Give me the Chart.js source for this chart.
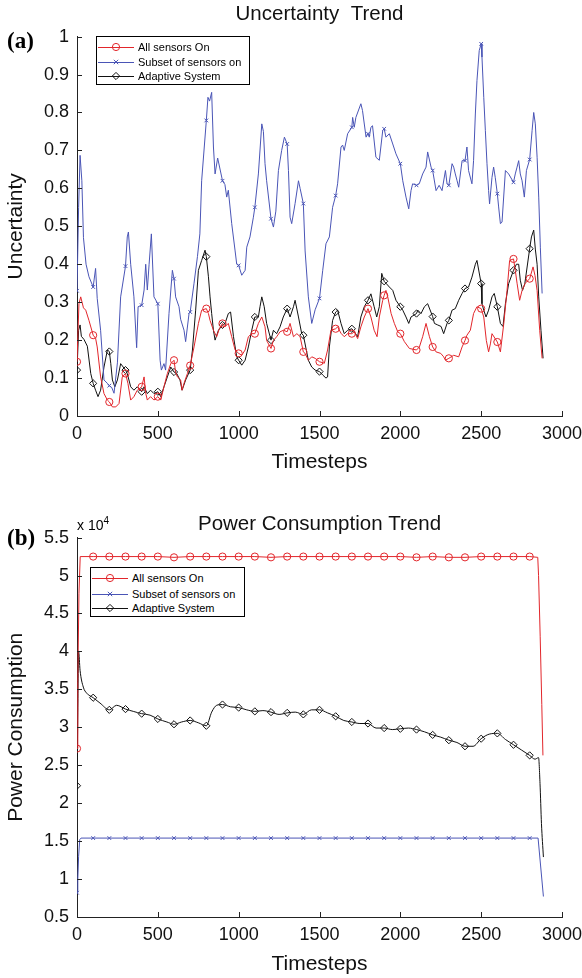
<!DOCTYPE html>
<html><head><meta charset="utf-8">
<script src="https://cdn.jsdelivr.net/npm/chart.js@4.4.0/dist/chart.umd.min.js"></script>
<style>
html,body{margin:0;padding:0;background:#fff}
body{width:582px;height:978px;position:relative;overflow:hidden;font-family:"Liberation Sans",Arial,sans-serif}
.wrap{position:absolute;left:0;width:582px;height:489px}
.lab{position:absolute;color:#000;white-space:nowrap;line-height:1}
.legend{position:absolute;border:1px solid #000;background:#fff;font-size:11px;box-sizing:border-box;font-family:"Liberation Sans",Arial,sans-serif}
.legend .row{position:absolute;left:0;height:14px;display:flex;align-items:center}
.legend svg{display:block}
.legend span{margin-left:3px;color:#000}
</style></head><body>
<div class="wrap" style="top:0"><canvas id="ca" width="582" height="489"></canvas></div>
<div class="wrap" style="top:489px"><canvas id="cb" width="582" height="489"></canvas></div>
<div class="lab" style="left:7px;top:29px;font-family:'Liberation Serif',serif;font-weight:bold;font-size:23px">(a)</div>
<div class="lab" style="left:7px;top:526px;font-family:'Liberation Serif',serif;font-weight:bold;font-size:23px">(b)</div>
<div class="lab" style="left:77px;top:516px;font-size:14px">x 10<sup style="font-size:10px;vertical-align:6px">4</sup></div>
<div id="legA" class="legend" style="left:96px;top:36px;width:154px;height:49px"></div>
<div id="legB" class="legend" style="left:90px;top:567px;width:155px;height:50px"></div>
<script>
// ---------- DATA ----------
const seriesNames = ["All sensors On", "Subset of sensors on", "Adaptive System"];
const xTicks = [0, 500, 1000, 1500, 2000, 2500, 3000];

// (a) Uncertainty: [timestep, value]
const uncAllOn = [[0,0.143],[12,0.296],[23,0.314],[40,0.285],[54,0.279],[74,0.252],[100,0.213],[115,0.205],[125,0.182],[146,0.103],[167,0.059],[188,0.042],[200,0.037],[219,0.024],[240,0.024],[260,0.033],[280,0.103],[300,0.112],[315,0.086],[332,0.042],[352,0.051],[373,0.068],[400,0.077],[415,0.103],[425,0.06],[435,0.042],[455,0.051],[476,0.042],[500,0.051],[518,0.042],[538,0.077],[559,0.112],[580,0.138],[600,0.147],[610,0.115],[621,0.103],[641,0.095],[650,0.068],[662,0.086],[683,0.112],[700,0.133],[724,0.182],[751,0.244],[771,0.279],[800,0.283],[813,0.27],[823,0.252],[844,0.226],[864,0.209],[880,0.23],[900,0.244],[915,0.235],[936,0.244],[957,0.209],[978,0.174],[1000,0.165],[1019,0.16],[1040,0.174],[1060,0.209],[1081,0.217],[1100,0.217],[1122,0.244],[1143,0.261],[1163,0.235],[1173,0.199],[1200,0.178],[1215,0.199],[1235,0.209],[1256,0.222],[1277,0.226],[1300,0.222],[1318,0.244],[1339,0.209],[1360,0.217],[1380,0.209],[1400,0.169],[1411,0.165],[1431,0.147],[1452,0.156],[1473,0.152],[1500,0.143],[1530,0.139],[1550,0.174],[1571,0.226],[1600,0.23],[1612,0.235],[1633,0.218],[1653,0.209],[1674,0.217],[1700,0.217],[1715,0.222],[1736,0.204],[1756,0.235],[1777,0.261],[1800,0.283],[1818,0.261],[1838,0.226],[1856,0.209],[1870,0.261],[1891,0.305],[1900,0.318],[1911,0.331],[1922,0.314],[1943,0.27],[1963,0.244],[1984,0.222],[2000,0.217],[2025,0.196],[2056,0.178],[2100,0.174],[2118,0.182],[2138,0.209],[2159,0.244],[2180,0.209],[2200,0.182],[2221,0.169],[2250,0.165],[2268,0.156],[2279,0.147],[2300,0.152],[2330,0.16],[2361,0.156],[2382,0.182],[2400,0.199],[2412,0.213],[2433,0.226],[2453,0.27],[2474,0.288],[2500,0.283],[2516,0.261],[2532,0.199],[2546,0.169],[2557,0.19],[2567,0.217],[2600,0.195],[2619,0.169],[2640,0.244],[2660,0.331],[2676,0.41],[2700,0.414],[2711,0.384],[2722,0.35],[2738,0.305],[2753,0.331],[2773,0.35],[2800,0.362],[2821,0.393],[2833,0.37],[2846,0.331],[2862,0.226],[2877,0.152]];

const uncSubset = [[0,0.33],[10,0.55],[19,0.687],[30,0.62],[40,0.47],[56,0.40],[74,0.367],[100,0.34],[115,0.389],[125,0.31],[146,0.226],[167,0.095],[188,0.086],[200,0.08],[215,0.075],[229,0.06],[250,0.14],[270,0.314],[300,0.395],[311,0.472],[318,0.485],[332,0.40],[352,0.314],[369,0.18],[378,0.288],[400,0.292],[415,0.332],[425,0.40],[435,0.332],[446,0.40],[460,0.48],[476,0.314],[500,0.296],[514,0.147],[522,0.121],[538,0.138],[548,0.121],[569,0.27],[590,0.384],[600,0.362],[610,0.314],[631,0.288],[641,0.255],[662,0.226],[672,0.196],[693,0.27],[700,0.274],[724,0.35],[745,0.42],[760,0.48],[771,0.62],[800,0.779],[810,0.84],[820,0.83],[833,0.853],[844,0.709],[854,0.638],[870,0.68],[900,0.62],[915,0.61],[926,0.577],[936,0.595],[957,0.507],[978,0.435],[988,0.40],[1000,0.397],[1019,0.371],[1040,0.384],[1050,0.445],[1070,0.472],[1091,0.524],[1100,0.55],[1122,0.638],[1143,0.77],[1153,0.75],[1163,0.665],[1173,0.62],[1200,0.52],[1215,0.498],[1230,0.54],[1246,0.647],[1266,0.70],[1283,0.735],[1300,0.717],[1308,0.647],[1318,0.524],[1328,0.507],[1349,0.56],[1370,0.62],[1380,0.60],[1400,0.56],[1411,0.435],[1431,0.314],[1452,0.244],[1473,0.28],[1500,0.31],[1520,0.384],[1540,0.454],[1561,0.472],[1581,0.55],[1600,0.581],[1612,0.612],[1633,0.709],[1643,0.714],[1653,0.70],[1674,0.744],[1700,0.761],[1705,0.787],[1715,0.761],[1725,0.787],[1756,0.823],[1766,0.805],[1788,0.735],[1800,0.744],[1808,0.735],[1818,0.761],[1828,0.765],[1849,0.682],[1870,0.674],[1891,0.752],[1900,0.757],[1911,0.735],[1932,0.744],[1953,0.717],[1973,0.691],[2000,0.665],[2015,0.62],[2035,0.577],[2052,0.546],[2066,0.594],[2076,0.612],[2100,0.608],[2117,0.612],[2138,0.638],[2159,0.656],[2169,0.696],[2190,0.656],[2200,0.647],[2221,0.594],[2240,0.608],[2258,0.594],[2279,0.647],[2289,0.612],[2300,0.608],[2320,0.665],[2330,0.656],[2340,0.638],[2351,0.62],[2361,0.603],[2382,0.673],[2400,0.673],[2412,0.709],[2422,0.647],[2443,0.612],[2453,0.673],[2464,0.796],[2474,0.884],[2488,0.963],[2500,0.981],[2505,0.946],[2516,0.84],[2526,0.752],[2536,0.665],[2546,0.594],[2552,0.559],[2567,0.629],[2577,0.656],[2587,0.629],[2600,0.586],[2608,0.551],[2619,0.507],[2629,0.511],[2650,0.647],[2670,0.638],[2700,0.616],[2711,0.638],[2722,0.656],[2732,0.673],[2742,0.638],[2753,0.62],[2767,0.577],[2780,0.647],[2800,0.676],[2815,0.752],[2825,0.80],[2835,0.77],[2846,0.682],[2856,0.577],[2866,0.445],[2877,0.323]];

const uncAdaptive = [[0,0.121],[10,0.226],[19,0.24],[27,0.21],[43,0.202],[64,0.184],[85,0.112],[100,0.086],[115,0.068],[130,0.051],[146,0.068],[167,0.129],[188,0.174],[200,0.17],[209,0.138],[219,0.095],[234,0.077],[250,0.095],[270,0.138],[300,0.121],[311,0.112],[332,0.077],[352,0.068],[373,0.077],[400,0.064],[415,0.077],[435,0.059],[455,0.068],[476,0.059],[500,0.064],[518,0.051],[538,0.077],[559,0.103],[580,0.129],[600,0.116],[617,0.112],[637,0.095],[650,0.068],[672,0.095],[700,0.121],[714,0.174],[734,0.279],[751,0.384],[771,0.41],[792,0.437],[800,0.42],[813,0.367],[823,0.314],[833,0.27],[844,0.226],[854,0.2],[875,0.226],[900,0.24],[915,0.243],[936,0.27],[950,0.274],[968,0.209],[988,0.156],[1000,0.147],[1019,0.134],[1040,0.147],[1060,0.182],[1081,0.226],[1100,0.261],[1122,0.261],[1132,0.288],[1143,0.314],[1158,0.288],[1173,0.244],[1200,0.2],[1215,0.226],[1235,0.217],[1256,0.235],[1276,0.261],[1300,0.283],[1318,0.261],[1339,0.288],[1349,0.305],[1370,0.261],[1390,0.217],[1400,0.213],[1431,0.147],[1452,0.129],[1473,0.121],[1500,0.117],[1520,0.108],[1540,0.1],[1550,0.103],[1561,0.182],[1581,0.252],[1600,0.274],[1612,0.279],[1633,0.244],[1653,0.217],[1674,0.226],[1700,0.23],[1715,0.222],[1736,0.209],[1756,0.261],[1777,0.288],[1800,0.305],[1818,0.322],[1838,0.288],[1854,0.261],[1870,0.288],[1885,0.376],[1900,0.355],[1911,0.35],[1932,0.34],[1953,0.331],[1973,0.305],[2000,0.288],[2015,0.279],[2035,0.261],[2052,0.244],[2066,0.261],[2100,0.27],[2108,0.279],[2128,0.27],[2149,0.288],[2169,0.296],[2200,0.262],[2211,0.244],[2231,0.24],[2252,0.236],[2268,0.217],[2289,0.244],[2300,0.252],[2320,0.279],[2340,0.283],[2361,0.305],[2382,0.323],[2400,0.336],[2422,0.34],[2443,0.366],[2464,0.40],[2474,0.41],[2500,0.349],[2505,0.296],[2516,0.279],[2530,0.261],[2546,0.279],[2567,0.314],[2581,0.323],[2600,0.288],[2619,0.244],[2635,0.236],[2650,0.296],[2670,0.349],[2700,0.384],[2718,0.40],[2732,0.40],[2742,0.358],[2756,0.331],[2770,0.349],[2800,0.441],[2811,0.472],[2825,0.49],[2835,0.44],[2846,0.40],[2856,0.314],[2870,0.226],[2883,0.152]];

// (b) Power consumption: [timestep, value]
const powAllOn = [[0,27200],[5,36000],[12,47600],[20,52500],[100,52500],[200,52500],[300,52500],[400,52500],[500,52500],[600,52400],[700,52500],[800,52500],[900,52500],[1000,52500],[1100,52500],[1200,52400],[1300,52500],[1400,52500],[1500,52500],[1600,52500],[1700,52500],[1800,52500],[1900,52500],[2000,52500],[2100,52400],[2200,52500],[2300,52400],[2400,52400],[2500,52500],[2600,52500],[2700,52500],[2800,52500],[2850,52400],[2855,50000],[2865,42000],[2875,33000],[2882,26300]];

const powSubset = [[0,8200],[5,10000],[10,13000],[17,15200],[25,15400],[100,15400],[200,15400],[300,15400],[400,15400],[500,15400],[600,15400],[700,15400],[800,15400],[900,15400],[1000,15400],[1100,15400],[1200,15400],[1300,15400],[1400,15400],[1500,15400],[1600,15400],[1700,15400],[1800,15400],[1900,15400],[2000,15400],[2100,15400],[2200,15400],[2300,15400],[2400,15400],[2500,15400],[2600,15400],[2700,15400],[2800,15400],[2852,15400],[2885,7700]];

const powAdaptive = [[0,22300],[5,32000],[10,40000],[19,37500],[39,35300],[60,34500],[100,33900],[142,33200],[200,32300],[245,32900],[300,32400],[348,32100],[400,31800],[452,31600],[500,31100],[556,30700],[600,30400],[647,30700],[700,30900],[750,30600],[800,30200],[833,32000],[864,32900],[900,33000],[950,32700],[1000,32600],[1050,32300],[1100,32100],[1150,32200],[1200,32000],[1250,31700],[1300,31900],[1350,32000],[1400,31700],[1450,32300],[1500,32300],[1550,31900],[1600,31450],[1650,30900],[1700,30700],[1750,30500],[1800,30500],[1850,29900],[1900,29900],[1950,29700],[2000,29800],[2050,29900],[2100,29700],[2150,29400],[2200,29000],[2250,28700],[2300,28300],[2350,28000],[2400,27500],[2450,27500],[2500,28500],[2550,29100],[2600,29200],[2650,28400],[2700,27700],[2750,27000],[2800,26300],[2833,25800],[2855,26000],[2864,22600],[2873,17300],[2885,12900]];

// ---------- STYLE ----------
const RED = '#e2262b', BLUE = '#4a55b6', BLACK = '#111111';
const FONT = '"Liberation Sans", Arial, sans-serif';
const styles = [
  {color: RED, pointStyle: 'circle', r: 3.6},
  {color: BLUE, pointStyle: 'crossRot', r: 2.6},
  {color: BLACK, pointStyle: 'rectRot', r: 3.6}
];

function ds(label, pairs, st, extra) {
  return Object.assign({
    label,
    data: pairs.map(p => ({x: p[0], y: p[1]})),
    borderColor: st.color,
    borderWidth: 1,
    pointStyle: st.pointStyle,
    pointBorderColor: st.color,
    pointBackgroundColor: 'rgba(0,0,0,0)',
    pointBorderWidth: 1,
    pointRadius: c => (c.raw && c.raw.x % 100 === 0 ? st.r : 0),
    pointHoverRadius: 0,
    tension: 0,
    fill: false
  }, extra || {});
}

const inwardTicks = {
  id: 'inwardTicks',
  afterDatasetsDraw(chart) {
    const {ctx, chartArea: a, scales: {x, y}} = chart;
    ctx.save();
    ctx.strokeStyle = '#222';
    ctx.lineWidth = 1;
    ctx.beginPath();
    x.ticks.forEach(t => { const px = Math.round(x.getPixelForValue(t.value)) + 0.5; ctx.moveTo(px, a.bottom); ctx.lineTo(px, a.bottom - 5); });
    y.ticks.forEach(t => { const py = Math.round(y.getPixelForValue(t.value)) + 0.5; ctx.moveTo(a.left, py); ctx.lineTo(a.left + 5, py); });
    ctx.stroke();
    ctx.restore();
  }
};

function makeOptions(cfg) {
  return {
    responsive: false,
    animation: false,
    devicePixelRatio: 1,
    layout: {padding: {left: 0, right: 20, top: 0, bottom: 0}},
    plugins: {
      legend: {display: false},
      tooltip: {enabled: false},
      title: {display: true, fullSize: false, text: cfg.title, color: '#111', font: {family: FONT, size: 20.5, weight: 'normal'}, padding: cfg.titlePad}
    },
    scales: {
      x: {
        type: 'linear', min: 0, max: 3000,
        afterBuildTicks: s => { s.ticks = xTicks.map(v => ({value: v})); },
        afterFit: s => { s.height = cfg.xHeight; s.paddingRight = 0; s.paddingLeft = 0; },
        grid: {display: true, drawOnChartArea: false, drawTicks: false},
        border: {display: true, color: '#222', width: 1},
        ticks: {color: '#111', font: {family: FONT, size: 18}, padding: 7, maxRotation: 0, callback: v => String(v)},
        title: {display: true, text: 'Timesteps', color: '#111', font: {family: FONT, size: 21}, padding: {top: 0, bottom: cfg.xTitleBottom}}
      },
      y: {
        type: 'linear', min: cfg.yMin, max: cfg.yMax,
        afterBuildTicks: s => { s.ticks = cfg.yTicks.map(v => ({value: v})); },
        afterFit: s => { s.width = 77; },
        grid: {display: true, drawOnChartArea: false, drawTicks: false},
        border: {display: true, color: '#222', width: 1},
        ticks: {color: '#111', font: {family: FONT, size: 18}, padding: 8, callback: cfg.yFmt},
        title: {display: true, text: cfg.yTitle, color: '#111', font: {family: FONT, size: 21}, padding: {top: 4, bottom: 0}}
      }
    }
  };
}

const uncTicks = [0, 0.1, 0.2, 0.3, 0.4, 0.5, 0.6, 0.7, 0.8, 0.9, 1];
const powTicks = [5000, 10000, 15000, 20000, 25000, 30000, 35000, 40000, 45000, 50000, 55000];

new Chart(document.getElementById('ca'), {
  type: 'line',
  data: {datasets: [
    ds(seriesNames[0], uncAllOn, styles[0]),
    ds(seriesNames[1], uncSubset, styles[1]),
    ds(seriesNames[2], uncAdaptive, styles[2])
  ]},
  options: makeOptions({title: 'Uncertainty  Trend', titlePad: {top: 2, bottom: 10}, xHeight: 73, xTitleBottom: 14,
    yMin: 0, yMax: 1, yTicks: uncTicks, yTitle: 'Uncertainty', yFmt: v => String(Math.round(v * 10) / 10)}),
  plugins: [inwardTicks]
});

new Chart(document.getElementById('cb'), {
  type: 'line',
  data: {datasets: [
    ds(seriesNames[0], powAllOn, styles[0]),
    ds(seriesNames[1], powSubset, styles[1]),
    ds(seriesNames[2], powAdaptive, styles[2], {cubicInterpolationMode: 'monotone'})
  ]},
  options: makeOptions({title: 'Power Consumption Trend', titlePad: {top: 23, bottom: 1}, xHeight: 61, xTitleBottom: 1,
    yMin: 5000, yMax: 55000, yTicks: powTicks, yTitle: 'Power Consumption', yFmt: v => String(Math.round(v / 1000) / 10)}),
  plugins: [inwardTicks]
});

// ---------- HTML legends ----------
function symbolSvg(st) {
  const c = st.color;
  let m = '';
  if (st.pointStyle === 'circle') m = `<circle cx="19" cy="7" r="3.6" fill="none" stroke="${c}" stroke-width="1"/>`;
  else if (st.pointStyle === 'crossRot') m = `<path d="M16.8 4.8 L21.2 9.2 M21.2 4.8 L16.8 9.2" stroke="${c}" stroke-width="1"/>`;
  else m = `<path d="M19 3.4 L22.6 7 L19 10.6 L15.4 7 Z" fill="none" stroke="${c}" stroke-width="1"/>`;
  return `<svg width="38" height="14" viewBox="0 0 38 14"><line x1="1" y1="7.5" x2="37" y2="7.5" stroke="${c}" stroke-width="1"/>${m}</svg>`;
}
function buildLegend(id, tops) {
  const el = document.getElementById(id);
  seriesNames.forEach((n, i) => {
    const row = document.createElement('div');
    row.className = 'row';
    row.style.top = tops[i] + 'px';
    row.innerHTML = symbolSvg(styles[i]) + `<span>${n}</span>`;
    el.appendChild(row);
  });
}
buildLegend('legA', [3, 18, 32]);
buildLegend('legB', [3, 19, 33]);
</script>
</body></html>
